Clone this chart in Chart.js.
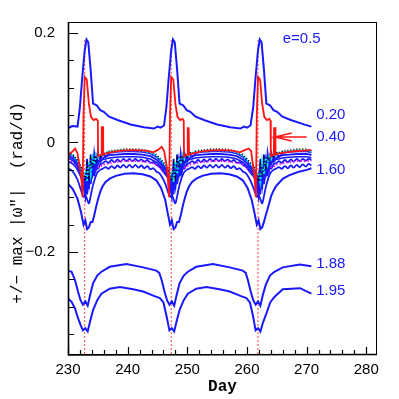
<!DOCTYPE html>
<html><head><meta charset="utf-8">
<script src="https://cdn.jsdelivr.net/npm/chart.js@4.4.1/dist/chart.umd.min.js"></script>
<style>html,body{margin:0;padding:0;background:#fff;}canvas{display:block;}</style>
</head><body>
<canvas id="c" width="399" height="399"></canvas>
<script>
// ---------- tick labels / axes ----------
const xTickDays = [230, 240, 250, 260, 270, 280];
const xMinorDays = [230,232,234,236,238,240,242,244,246,248,250,252,254,256,258,260,262,264,266,268,270,272,274,276,278,280];
const yTickVals = [-0.2, 0, 0.2];
const yMinorVals = [-0.35,-0.3,-0.25,-0.2,-0.15,-0.1,-0.05,0,0.05,0.1,0.15,0.2];

// ---------- curve "0.20" (top blue) ----------
const days020 = [230.0,230.7,231.6,232.0,232.4,232.8,233.1,233.4,233.8,234.2,234.8,235.4,236.0,236.9,238.3,240.5,242.7,244.4,245.0,245.5,246.1,
 246.5,246.9,247.3,247.6,247.9,248.3,248.7,249.3,249.9,250.5,251.4,252.8,255.0,257.2,258.9,259.5,260.0,260.6,
 261.05,261.45,261.85,262.15,262.45,262.85,263.25,263.85,264.45,265.05,265.95,267.35,269.55,270.8];
const vals020 = [0.026,0.030,0.029,0.065,0.120,0.168,0.188,0.183,0.132,0.071,0.068,0.059,0.056,0.047,0.041,0.033,0.028,0.0255,0.029,0.027,0.031,
 0.065,0.120,0.168,0.188,0.183,0.132,0.071,0.068,0.059,0.056,0.047,0.041,0.033,0.028,0.0255,0.029,0.027,0.031,
 0.065,0.120,0.168,0.188,0.183,0.132,0.071,0.068,0.059,0.056,0.047,0.041,0.033,0.029];

// ---------- curve "0.40" (red) ----------
const days040 = [230.0,230.7,231.2,231.6,231.9,232.2,232.45,232.6,232.8,233.15,233.5,233.85,234.3,234.7,235.0,235.05,235.6,235.65,235.7,235.72,235.8,235.82,235.87,235.9,236.5,237.5,239.0,241.0,243.0,244.3,245.0,245.7,246.1,246.5,246.7,246.95,
 247.1,247.3,247.65,248.0,248.35,248.8,249.2,249.4,249.45,250.0,250.05,250.1,250.12,250.2,250.22,250.27,250.3,251.0,252.0,253.5,255.5,257.5,258.8,259.6,260.3,260.7,261.0,261.25,261.5,
 261.65,261.85,262.2,262.55,262.9,263.35,263.75,263.95,264.0,264.5,264.55,264.6,264.62,264.7,264.72,264.77,264.8,265.5,266.5,268.0,269.5,270.8];
const vals040 = [-0.023,-0.017,-0.011,-0.020,-0.040,-0.060,-0.100,0.050,0.120,0.115,0.071,0.047,0.041,0.043,0.040,-0.025,-0.022,0.028,0.028,-0.022,-0.022,0.028,0.028,-0.022,-0.020,-0.017,-0.015,-0.014,-0.015,-0.018,-0.014,-0.008,-0.015,-0.040,-0.060,-0.100,
 0.050,0.120,0.115,0.071,0.047,0.041,0.043,0.040,-0.025,-0.022,0.028,0.028,-0.022,-0.022,0.028,0.028,-0.022,-0.020,-0.017,-0.015,-0.014,-0.015,-0.018,-0.014,-0.011,-0.016,-0.040,-0.060,-0.100,
 0.050,0.120,0.115,0.071,0.047,0.041,0.043,0.040,-0.025,-0.022,0.028,0.028,-0.022,-0.022,0.028,0.028,-0.022,-0.020,-0.018,-0.016,-0.015,-0.014];

// ---------- cluster of curves near zero ----------
const clusterDays = [230.0,230.8,231.6,232.2,232.6,232.9,233.2,233.5,233.8,234.1,234.4,234.7,235.0,235.4,235.8,236.3,237.0,238.0,239.5,241.0,242.5,243.8,244.8,245.6,246.3,
 246.7,247.1,247.4,247.7,248.0,248.3,248.6,248.9,249.2,249.5,249.9,250.3,250.8,251.5,252.5,254.0,255.5,257.0,258.3,259.3,260.1,260.8,
 261.25,261.65,261.95,262.25,262.55,262.85,263.15,263.45,263.75,264.05,264.45,264.85,265.35,266.05,267.05,268.55,270.05,270.8];
const valsBlack = [-0.017,-0.022,-0.031,
 -0.045,-0.058,-0.070,-0.040,-0.062,-0.030,-0.045,-0.025,-0.033,-0.020,-0.026,-0.018,-0.020,-0.015,-0.014,-0.012,-0.012,-0.013,-0.016,-0.022,-0.031,-0.040,
 -0.045,-0.058,-0.070,-0.040,-0.062,-0.030,-0.045,-0.025,-0.033,-0.020,-0.026,-0.018,-0.020,-0.015,-0.014,-0.012,-0.012,-0.013,-0.016,-0.022,-0.031,-0.040,
 -0.045,-0.058,-0.070,-0.040,-0.062,-0.030,-0.045,-0.025,-0.033,-0.020,-0.026,-0.018,-0.020,-0.015,-0.014,-0.012,-0.012,-0.015];
const valsCyan = [-0.019,-0.024,-0.033,
 -0.048,-0.062,-0.055,-0.072,-0.035,-0.058,-0.028,-0.040,-0.022,-0.030,-0.021,-0.024,-0.018,-0.017,-0.016,-0.014,-0.014,-0.015,-0.018,-0.024,-0.033,-0.042,
 -0.048,-0.062,-0.055,-0.072,-0.035,-0.058,-0.028,-0.040,-0.022,-0.030,-0.021,-0.024,-0.018,-0.017,-0.016,-0.014,-0.014,-0.015,-0.018,-0.024,-0.033,-0.042,
 -0.048,-0.062,-0.055,-0.072,-0.035,-0.058,-0.028,-0.040,-0.022,-0.030,-0.021,-0.024,-0.018,-0.017,-0.016,-0.014,-0.014,-0.017];
const valsBlueA = [-0.019,-0.025,-0.035,
 -0.050,-0.068,-0.090,-0.030,-0.085,-0.022,-0.062,-0.020,-0.046,-0.018,-0.034,-0.019,-0.027,-0.019,-0.017,-0.016,-0.016,-0.017,-0.020,-0.026,-0.035,-0.046,
 -0.050,-0.068,-0.090,-0.030,-0.085,-0.022,-0.062,-0.020,-0.046,-0.018,-0.034,-0.019,-0.027,-0.019,-0.017,-0.016,-0.016,-0.017,-0.020,-0.026,-0.035,-0.046,
 -0.050,-0.068,-0.090,-0.030,-0.085,-0.022,-0.062,-0.020,-0.046,-0.018,-0.034,-0.019,-0.027,-0.019,-0.017,-0.016,-0.016,-0.019];
const valsBlueB = [-0.024,-0.029,-0.040,
 -0.056,-0.075,-0.060,-0.095,-0.040,-0.070,-0.032,-0.052,-0.026,-0.040,-0.028,-0.030,-0.025,-0.023,-0.022,-0.021,-0.021,-0.022,-0.025,-0.031,-0.040,-0.050,
 -0.056,-0.075,-0.060,-0.095,-0.040,-0.070,-0.032,-0.052,-0.026,-0.040,-0.028,-0.030,-0.025,-0.023,-0.022,-0.021,-0.021,-0.022,-0.025,-0.031,-0.040,-0.050,
 -0.056,-0.075,-0.060,-0.095,-0.040,-0.070,-0.032,-0.052,-0.026,-0.040,-0.028,-0.030,-0.025,-0.023,-0.022,-0.021,-0.021,-0.023];
const valsBlueC = [-0.028,-0.033,-0.043,
 -0.060,-0.080,-0.100,-0.050,-0.080,-0.045,-0.060,-0.038,-0.045,-0.033,-0.036,-0.031,-0.030,-0.028,-0.027,-0.026,-0.026,-0.027,-0.030,-0.036,-0.045,-0.055,
 -0.060,-0.080,-0.100,-0.050,-0.080,-0.045,-0.060,-0.038,-0.045,-0.033,-0.036,-0.031,-0.030,-0.028,-0.027,-0.026,-0.026,-0.027,-0.030,-0.036,-0.045,-0.055,
 -0.060,-0.080,-0.100,-0.050,-0.080,-0.045,-0.060,-0.038,-0.045,-0.033,-0.036,-0.031,-0.030,-0.028,-0.027,-0.026,-0.026,-0.028];
const valsMagenta = [-0.030,-0.036,-0.045,
 -0.055,-0.065,-0.070,-0.055,-0.065,-0.050,-0.055,-0.045,-0.050,-0.045,-0.045,-0.040,-0.040,-0.038,-0.036,-0.034,-0.034,-0.035,-0.037,-0.040,-0.048,-0.056,
 -0.055,-0.065,-0.070,-0.055,-0.065,-0.050,-0.055,-0.045,-0.050,-0.045,-0.045,-0.040,-0.040,-0.038,-0.036,-0.034,-0.034,-0.035,-0.037,-0.040,-0.048,-0.056,
 -0.055,-0.065,-0.070,-0.055,-0.065,-0.050,-0.055,-0.045,-0.050,-0.045,-0.045,-0.040,-0.040,-0.038,-0.036,-0.034,-0.034,-0.033];
const valsDeep = [-0.075,-0.085,-0.103,
 -0.128,-0.150,-0.142,-0.158,-0.155,-0.145,-0.145,-0.133,-0.118,-0.105,-0.090,-0.080,-0.072,-0.066,-0.061,-0.057,-0.056,-0.058,-0.062,-0.069,-0.083,-0.105,
 -0.128,-0.150,-0.142,-0.158,-0.155,-0.145,-0.145,-0.133,-0.118,-0.105,-0.090,-0.080,-0.072,-0.066,-0.061,-0.057,-0.056,-0.058,-0.062,-0.069,-0.083,-0.105,
 -0.128,-0.150,-0.142,-0.158,-0.155,-0.145,-0.133,-0.122,-0.110,-0.098,-0.088,-0.080,-0.074,-0.066,-0.060,-0.054,-0.050,-0.047];

// ---------- wavy curves ----------
const wavyDays = [230.0,230.5,231.0,231.6,232.2,232.6,232.9,233.2,233.5,233.8,234.1,234.4,234.7,235.0,235.4,235.8,
 236.3,236.8,237.3,237.8,238.3,238.8,239.3,239.8,240.3,240.8,241.3,241.8,242.3,242.8,243.3,243.8,244.3,244.8,245.3,245.8,246.3,
 246.7,247.1,247.4,247.7,248.0,248.3,248.6,248.9,249.2,249.5,249.9,250.3,
 250.8,251.3,251.8,252.3,252.8,253.3,253.8,254.3,254.8,255.3,255.8,256.3,256.8,257.3,257.8,258.3,258.8,259.3,259.8,260.3,260.8,
 261.25,261.65,261.95,262.25,262.55,262.85,263.15,263.45,263.75,264.05,264.45,264.85,
 265.35,265.85,266.35,266.85,267.35,267.85,268.35,268.85,269.35,269.85,270.35,270.8];
const valsWavyLow = [-0.047,-0.050,-0.056,-0.068,-0.088,-0.099,-0.096,-0.104,-0.111,-0.098,-0.082,-0.070,-0.060,-0.054,-0.050,-0.048,
 -0.045,-0.048,-0.043,-0.047,-0.042,-0.046,-0.041,-0.046,-0.041,-0.046,-0.041,-0.046,-0.042,-0.047,-0.043,-0.049,-0.047,-0.053,-0.056,-0.064,-0.075,
 -0.088,-0.099,-0.096,-0.104,-0.111,-0.098,-0.082,-0.070,-0.060,-0.054,-0.050,-0.048,
 -0.045,-0.048,-0.043,-0.047,-0.042,-0.046,-0.041,-0.046,-0.041,-0.046,-0.041,-0.046,-0.042,-0.047,-0.043,-0.049,-0.047,-0.053,-0.056,-0.064,-0.075,
 -0.088,-0.099,-0.096,-0.104,-0.111,-0.098,-0.082,-0.070,-0.060,-0.054,-0.050,-0.048,
 -0.045,-0.048,-0.043,-0.047,-0.042,-0.046,-0.041,-0.045,-0.040,-0.044,-0.039,-0.042];
const valsWavyHigh = [-0.035,-0.037,-0.041,-0.050,-0.064,-0.078,-0.070,-0.085,-0.060,-0.075,-0.050,-0.060,-0.045,-0.048,-0.040,-0.038,
 -0.034,-0.037,-0.032,-0.036,-0.031,-0.035,-0.030,-0.034,-0.030,-0.034,-0.030,-0.034,-0.031,-0.035,-0.032,-0.037,-0.036,-0.041,-0.044,-0.051,-0.058,
 -0.064,-0.078,-0.070,-0.085,-0.060,-0.075,-0.050,-0.060,-0.045,-0.048,-0.040,-0.038,
 -0.034,-0.037,-0.032,-0.036,-0.031,-0.035,-0.030,-0.034,-0.030,-0.034,-0.030,-0.034,-0.031,-0.035,-0.032,-0.037,-0.036,-0.041,-0.044,-0.051,-0.058,
 -0.064,-0.078,-0.070,-0.085,-0.060,-0.075,-0.050,-0.060,-0.045,-0.048,-0.040,-0.038,
 -0.034,-0.037,-0.032,-0.036,-0.031,-0.035,-0.030,-0.034,-0.030,-0.033,-0.030,-0.032];

// ---------- curves "1.88" and "1.95" ----------
const days188 = [230.0,230.6,231.17,231.7,232.1,232.5,232.9,233.3,233.7,234.2,234.9,235.6,237.0,239.8,242.6,244.8,245.3,
 245.7,246.2,246.6,247.0,247.4,247.8,248.2,248.7,249.4,250.1,251.5,254.3,257.1,259.3,259.8,
 260.15,260.65,261.05,261.45,261.85,262.25,262.65,263.15,263.85,264.6,266.0,268.85,270.8];
const vals188 = [-0.234,-0.236,-0.251,-0.273,-0.288,-0.296,-0.290,-0.298,-0.279,-0.257,-0.243,-0.236,-0.227,-0.222,-0.228,-0.234,-0.238,
 -0.251,-0.273,-0.288,-0.296,-0.290,-0.298,-0.279,-0.257,-0.243,-0.236,-0.227,-0.222,-0.228,-0.234,-0.238,
 -0.251,-0.273,-0.288,-0.296,-0.290,-0.298,-0.279,-0.260,-0.243,-0.236,-0.228,-0.223,-0.226];
const days195 = [230.0,230.6,231.17,231.7,232.1,232.5,232.9,233.3,233.7,234.2,234.9,235.6,237.0,238.7,240.9,242.6,244.4,245.4,
 246.0,246.5,247.0,247.4,247.8,248.2,248.7,249.4,250.1,251.5,253.2,255.4,257.1,258.9,259.9,
 260.5,261.0,261.45,261.85,262.25,262.65,263.2,263.9,264.6,266.0,268.9,270.8];
const vals195 = [-0.285,-0.291,-0.303,-0.321,-0.333,-0.343,-0.339,-0.345,-0.327,-0.306,-0.288,-0.276,-0.267,-0.264,-0.268,-0.272,-0.280,-0.284,
 -0.292,-0.316,-0.343,-0.339,-0.345,-0.327,-0.306,-0.288,-0.276,-0.267,-0.264,-0.268,-0.272,-0.280,-0.284,
 -0.292,-0.316,-0.343,-0.339,-0.345,-0.330,-0.314,-0.292,-0.282,-0.268,-0.266,-0.276];

// ---------- transit markers and arrow ----------
const transitDays = [232.8, 247.3, 261.85];
const transitRange = [0.187, -0.388];
const arrowDays = [270.0, 264.7, 267.5, 264.7, 267.5];
const arrowVals = [0.0102, 0.0102, 0.0175, 0.0102, 0.0029];

// ---------- curve labels ----------
const labelTexts = ['e=0.5', '0.20', '0.40', '1.60', '1.88', '1.95'];
const labelDays = [266.0, 271.6, 271.6, 271.6, 271.6, 271.6];
const labelVals = [0.1885, 0.050, 0.0097, -0.0505, -0.221, -0.271];

const BLUE = 'rgb(25,25,255)';
const pts = (xs, ys) => xs.map((x, i) => ({x, y: ys[i]}));
const line = (xs, ys, color, width, extra) => Object.assign({
  data: pts(xs, ys), showLine: true, borderColor: color, backgroundColor: color,
  borderWidth: width, pointRadius: 0, tension: 0, fill: false
}, extra || {});

const datasets = [
  line(days020, vals020, BLUE, 2),
  line(days040, vals040, 'rgb(255,20,20)', 1.8),
  line(arrowDays, arrowVals, 'rgb(255,20,20)', 1.5),
  line(clusterDays, valsBlack, '#000', 1.6, {borderDash: [1, 2]}),
  line(clusterDays, valsCyan, 'rgb(0,230,230)', 2, {borderDash: [2, 2]}),
  line(clusterDays, valsBlueA, BLUE, 1.8),
  line(clusterDays, valsBlueB, BLUE, 1.8),
  line(clusterDays, valsBlueC, BLUE, 1.6),
  line(clusterDays, valsMagenta, 'rgb(255,0,255)', 1.6, {borderDash: [1.5, 2]}),
  line(wavyDays, valsWavyHigh, BLUE, 1.8, {tension: 0.3}),
  line(wavyDays, valsWavyLow, BLUE, 1.8, {tension: 0.3}),
  line(clusterDays, valsDeep, BLUE, 2),
  line(days188, vals188, BLUE, 2),
  line(days195, vals195, BLUE, 2),
];
transitDays.forEach(d => datasets.push(line([d, d], transitRange, 'rgb(255,60,60)', 1, {borderDash: [2, 2]})));

const nearly = (a, b) => Math.abs(a - b) < 1e-9;
const framePlugin = {
  id: 'frame',
  afterDatasetsDraw(chart) {
    const {ctx, chartArea: a, scales: {x, y}} = chart;
    ctx.save();
    ctx.strokeStyle = '#000';
    ctx.lineWidth = 1;
    ctx.strokeRect(a.left + 0.5, a.top + 0.5, a.right - a.left - 1, a.bottom - a.top - 1);
    ctx.lineWidth = 1.6;
    ctx.beginPath();
    ctx.moveTo(a.left + 0.5, a.top); ctx.lineTo(a.left + 0.5, a.bottom);
    ctx.lineTo(a.right, a.bottom - 0.5);
    ctx.stroke();
    ctx.lineWidth = 1.2;
    ctx.beginPath();
    yMinorVals.forEach(v => {
      const py = Math.round(y.getPixelForValue(v)) + 0.5;
      const len = yTickVals.some(t => nearly(t, v)) ? 10 : 6;
      ctx.moveTo(a.left, py); ctx.lineTo(a.left + len, py);
    });
    xMinorDays.forEach(d => {
      const px = Math.round(x.getPixelForValue(d)) + 0.5;
      const len = xTickDays.includes(d) ? 8 : 5;
      ctx.moveTo(px, a.bottom); ctx.lineTo(px, a.bottom - len);
    });
    ctx.stroke();
    ctx.fillStyle = BLUE;
    ctx.font = '15px "Liberation Sans", Arial, sans-serif';
    ctx.textAlign = 'left';
    ctx.textBaseline = 'middle';
    labelTexts.forEach((t, i) => {
      ctx.fillText(t, x.getPixelForValue(labelDays[i]), y.getPixelForValue(labelVals[i]));
    });
    ctx.restore();
  }
};

new Chart(document.getElementById('c'), {
  type: 'scatter',
  data: {datasets},
  options: {
    responsive: false,
    animation: false,
    events: [],
    layout: {padding: {top: 22, right: 22, left: 0, bottom: 0}},
    plugins: {legend: {display: false}, tooltip: {enabled: false}},
    scales: {
      x: {
        type: 'linear', min: 230, max: 281.8,
        afterFit(s) { s.height = 44; },
        afterBuildTicks(s) { s.ticks = xTickDays.map(v => ({value: v})); },
        grid: {display: false, drawTicks: false},
        border: {display: false},
        ticks: {color: '#000', padding: 6, autoSkip: false, maxRotation: 0,
                font: {family: '"Liberation Sans", Arial, sans-serif', size: 15},
                callback: v => String(v)},
        title: {display: true, text: 'Day', color: '#000', padding: {top: 0, bottom: 2},
                font: {family: '"Liberation Mono", monospace', size: 16, weight: 'bold'}}
      },
      y: {
        type: 'linear', min: -0.388, max: 0.22,
        afterFit(s) { s.width = 68; },
        afterBuildTicks(s) { s.ticks = yTickVals.map(v => ({value: v})); },
        grid: {display: false, drawTicks: false},
        border: {display: false},
        ticks: {color: '#000', padding: 13,
                font: {family: '"Liberation Sans", Arial, sans-serif', size: 15},
                callback: v => (Math.abs(v) < 1e-9 ? '0' : (v < 0 ? '\u2212' + String(-v) : String(v)))},
        title: {display: true, text: '+/\u2212 max |\u03c9"|  (rad/d)   ', color: '#000', padding: {top: 8, bottom: 0},
                font: {family: '"Liberation Mono", monospace', size: 16}}
      }
    }
  },
  plugins: [framePlugin]
});
</script>
</body></html>
